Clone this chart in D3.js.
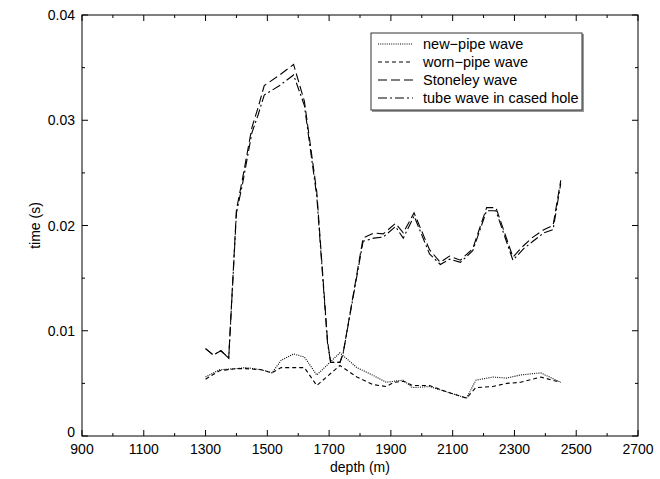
<!DOCTYPE html>
<html lang="en">
<head>
<meta charset="UTF-8">
<title>depth vs time</title>
<script src="https://d3js.org/d3.v7.min.js"></script>
<style>
    body { margin: 0; background: #fff; }
    text { font-family: "Liberation Sans", Arial, sans-serif; fill: #000; }
</style>
</head>
<body>
<svg width="660" height="479"></svg>
<script>
// upper pair: Stoneley and tube wave share depths
const upperDepth = [1300,1325,1350,1375,1400,1420,1450,1470,1490,1540,1585,1620,1660,1695,1705,1735,1745,1810,1845,1875,1915,1940,1975,2025,2060,2090,2125,2165,2210,2240,2295,2330,2360,2395,2425,2450];
const stoneley = [0.0083,0.0077,0.0081,0.0074,0.0215,0.0245,0.0293,0.0312,0.0333,0.0343,0.0353,0.0318,0.0232,0.0090,0.0070,0.0070,0.0078,0.0188,0.0193,0.0192,0.0202,0.0193,0.0212,0.0177,0.0165,0.0171,0.0167,0.0178,0.0217,0.0217,0.0170,0.0181,0.0189,0.0196,0.0200,0.0243];
const tubeWave = [0.0083,0.0077,0.0081,0.0074,0.0212,0.0240,0.0288,0.0305,0.0324,0.0333,0.0343,0.0314,0.0228,0.0088,0.0070,0.0070,0.0078,0.0185,0.0188,0.0189,0.0199,0.0188,0.0209,0.0173,0.0163,0.0168,0.0165,0.0176,0.0214,0.0214,0.0167,0.0178,0.0185,0.0193,0.0196,0.0240];

// lower pair: new-pipe and worn-pipe
const lowerDepth = [1300,1345,1400,1430,1480,1515,1545,1585,1620,1660,1735,1790,1840,1885,1910,1940,1970,2025,2080,2145,2175,2230,2275,2320,2385,2450];
const newPipe = [0.0056,0.0063,0.0064,0.0065,0.0063,0.0060,0.0072,0.0078,0.0075,0.0058,0.0079,0.0065,0.0058,0.0051,0.0052,0.0053,0.0046,0.0047,0.0042,0.0036,0.0053,0.0056,0.0055,0.0058,0.0060,0.0051];
const wornPipe = [0.0054,0.0062,0.0064,0.0064,0.0063,0.0060,0.0065,0.0065,0.0065,0.0048,0.0067,0.0056,0.0049,0.0047,0.0051,0.0052,0.0048,0.0048,0.0042,0.0036,0.0046,0.0047,0.0050,0.0051,0.0056,0.0051];

const xTicks = [900,1100,1300,1500,1700,1900,2100,2300,2500,2700];
const yTicks = [0,0.01,0.02,0.03,0.04];
const yTickLabels = ["0","0.01","0.02","0.03","0.04"];

const seriesNames = ["new\u2212pipe wave","worn\u2212pipe wave","Stoneley wave","tube wave in cased hole"];
const dashes = ["1,1.2","4,3","9,4","9,3,2,3"];

const plotL = 82, plotR = 638, plotT = 15, plotB = 436;
const svg = d3.select("svg");

const x = d3.scaleLinear().domain([900, 2700]).range([plotL, plotR]);
const y = d3.scaleLinear().domain([0, 0.04]).range([plotB, plotT]);

// frame
svg.append("rect")
    .attr("x", plotL).attr("y", plotT)
    .attr("width", plotR - plotL).attr("height", plotB - plotT)
    .attr("fill", "none").attr("stroke", "#000").attr("stroke-width", 1);

// ticks, pointing inward on all four sides
const xMinor = d3.range(1000, 2700, 200);
const yMinor = [0.005, 0.015, 0.025, 0.035];
const tickG = svg.append("g").attr("stroke", "#000").attr("stroke-width", 1);
function xTick(v, len) {
    tickG.append("line").attr("x1", x(v)).attr("x2", x(v)).attr("y1", plotB).attr("y2", plotB - len);
    tickG.append("line").attr("x1", x(v)).attr("x2", x(v)).attr("y1", plotT).attr("y2", plotT + len);
}
function yTick(v, len) {
    tickG.append("line").attr("y1", y(v)).attr("y2", y(v)).attr("x1", plotL).attr("x2", plotL + len);
    tickG.append("line").attr("y1", y(v)).attr("y2", y(v)).attr("x1", plotR).attr("x2", plotR - len);
}
xTicks.forEach(v => xTick(v, 6));
xMinor.forEach(v => xTick(v, 3));
yTicks.forEach(v => yTick(v, 6));
yMinor.forEach(v => yTick(v, 3));

// tick labels
svg.selectAll("text.xt").data(xTicks).enter().append("text")
    .attr("class", "xt")
    .attr("x", d => x(d)).attr("y", plotB + 18)
    .attr("text-anchor", "middle").style("font-size", "14px")
    .text(d => d);
svg.selectAll("text.yt").data(yTicks).enter().append("text")
    .attr("class", "yt")
    .attr("x", plotL - 7).attr("y", (d, i) => i === 0 ? y(d) + 1 : y(d) + 5)
    .attr("text-anchor", "end").style("font-size", "14px")
    .text((d, i) => yTickLabels[i]);

// axis titles
svg.append("text")
    .attr("x", (plotL + plotR) / 2).attr("y", 472)
    .attr("text-anchor", "middle").style("font-size", "14px")
    .text("depth (m)");
svg.append("text")
    .attr("transform", `translate(40, ${(plotT + plotB) / 2}) rotate(-90)`)
    .attr("text-anchor", "middle").style("font-size", "14px")
    .text("time (s)");

// lines
const series = [
    {depth: lowerDepth, vals: newPipe},
    {depth: lowerDepth, vals: wornPipe},
    {depth: upperDepth, vals: stoneley},
    {depth: upperDepth, vals: tubeWave}
];
const line = d3.line().x(d => x(d[0])).y(d => y(d[1]));
series.forEach((s, i) => {
    svg.append("path")
        .datum(s.depth.map((d, j) => [d, s.vals[j]]))
        .attr("d", line)
        .attr("fill", "none")
        .attr("stroke", "#000")
        .attr("stroke-width", 1.1)
        .attr("stroke-dasharray", dashes[i]);
});

// legend
const legend = svg.append("g").attr("transform", "translate(371, 33)");
legend.append("rect")
    .attr("x", 1).attr("y", 1).attr("width", 212).attr("height", 78)
    .attr("fill", "#999");
legend.append("rect")
    .attr("x", 0).attr("y", 0).attr("width", 211).attr("height", 77)
    .attr("fill", "#fff").attr("stroke", "#333").attr("stroke-width", 1);
seriesNames.forEach((name, i) => {
    const ly = 11 + i * 18;
    legend.append("line")
        .attr("x1", 7).attr("x2", 42).attr("y1", ly).attr("y2", ly)
        .attr("stroke", "#000").attr("stroke-width", 1.1)
        .attr("stroke-dasharray", dashes[i]);
    legend.append("text")
        .attr("x", 52).attr("y", ly + 5)
        .style("font-size", "14.5px")
        .text(name);
});
</script>
</body>
</html>
